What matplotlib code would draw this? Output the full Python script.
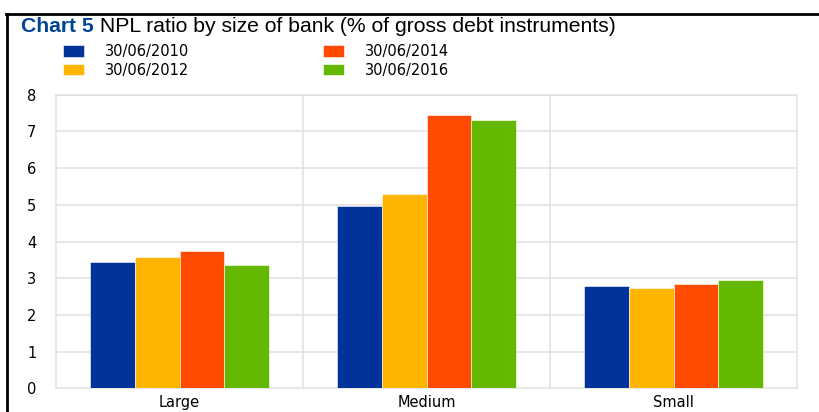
import numpy as np
import matplotlib.pyplot as plt
from matplotlib.lines import Line2D

plt.rcParams['font.family'] = ['Liberation Sans', 'DejaVu Sans']

categories = ['Large', 'Medium', 'Small']
series_names = ['30/06/2010', '30/06/2012', '30/06/2014', '30/06/2016']
npl_2010 = [3.43, 4.96, 2.80]
npl_2012 = [3.58, 5.29, 2.72]
npl_2014 = [3.74, 7.46, 2.85]
npl_2016 = [3.37, 7.31, 2.95]
colors = ['#003299', '#FFB400', '#FF4B00', '#65B800']

fig = plt.figure(figsize=(8.2, 4.12), dpi=100)
ax = fig.add_axes([0.0683, 0.0575, 0.9037, 0.7126])

x = np.arange(len(categories))
w = 0.182
bars = []
for i, (vals, c) in enumerate(zip([npl_2010, npl_2012, npl_2014, npl_2016], colors)):
    b = ax.bar(x + (i - 1.5) * w, vals, w, color=c, edgecolor='white', linewidth=0.4,
               label=series_names[i], zorder=3)
    bars.append(b)

ax.set_xlim(-0.5, 2.5)
ax.set_ylim(0, 8)
ax.set_yticks(range(0, 9))
ax.set_xticks(x)
ax.set_xticklabels(categories)
ax.tick_params(axis='both', length=0, labelsize=10.5)
ax.tick_params(axis='y', pad=14)
ax.tick_params(axis='x', pad=5)
for lbl in ax.get_xticklabels() + ax.get_yticklabels():
    lbl.set_family('DejaVu Sans')
for y in range(1, 9):
    ax.axhline(y, color='#E3E3E3', lw=1.2, zorder=1)
for xv in [0.5, 1.5]:
    ax.axvline(xv, color='#E3E3E3', lw=1.2, zorder=1)
for s in ax.spines.values():
    s.set_color('#E3E3E3')
    s.set_linewidth(1.2)

# title: blue bold prefix + plain rest
t1 = fig.text(21 / 820, 1 - 32 / 412, 'Chart 5', color='#004494', fontweight='bold',
              fontsize=15.2, va='baseline')
fig.canvas.draw()
ax.annotate(' NPL ratio by size of bank (% of gross debt instruments)', xy=(1, 0),
            xycoords=t1, va='bottom', fontsize=15.2, color='black', annotation_clip=False)

fig.legend(handles=bars, labels=series_names, ncol=2, loc='upper left',
           bbox_to_anchor=(63 / 820, 1 - 44 / 412), frameon=False,
           prop={'family': 'DejaVu Sans', 'size': 10.5},
           handlelength=1.44, handleheight=0.85, handletextpad=1.44, columnspacing=9.2,
           labelspacing=0.25, borderaxespad=0, borderpad=0)

# frame lines of the chart box
fig.add_artist(Line2D([6 / 820, 1], [1 - 13.5 / 412] * 2, color='black', lw=2))
fig.add_artist(Line2D([7 / 820] * 2, [0, 1 - 13.5 / 412], color='black', lw=2))

fig.savefig('out.png', dpi=100)
